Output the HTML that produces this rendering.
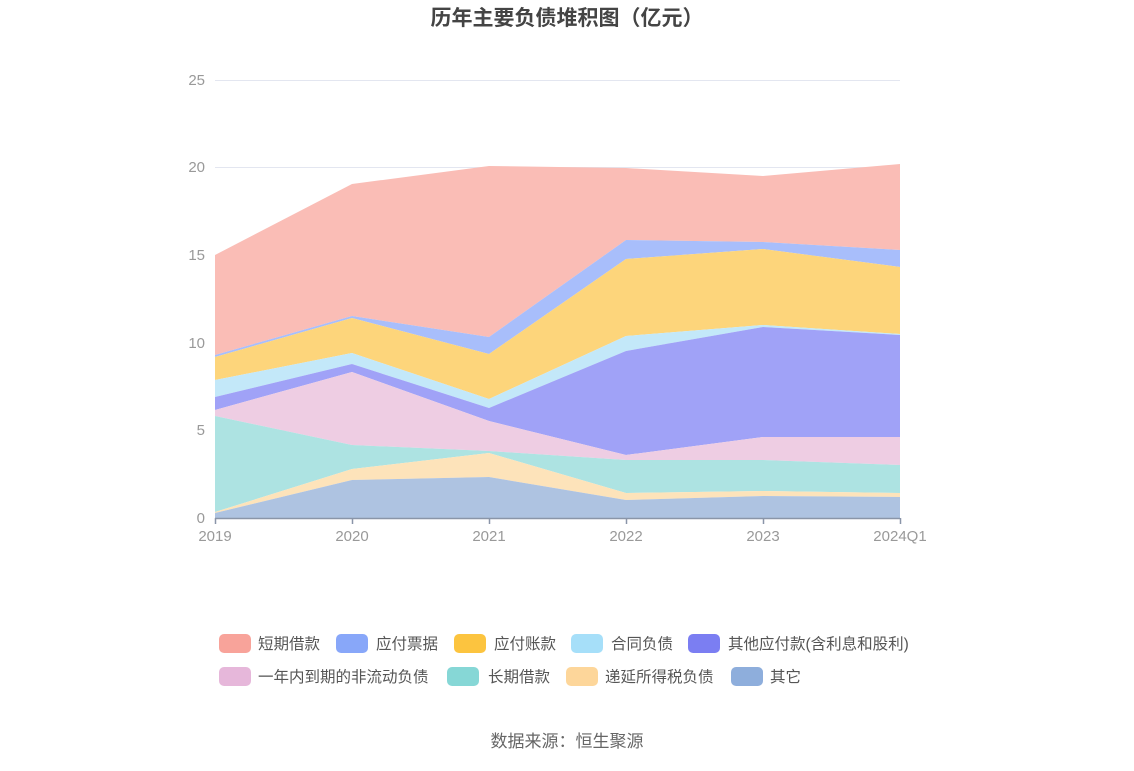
<!DOCTYPE html>
<html><head><meta charset="utf-8"><style>
body{margin:0;background:#fff;}
svg text{font-family:"Liberation Sans","Noto Sans CJK SC",sans-serif;}
</style></head><body>
<svg width="1134" height="766" xmlns="http://www.w3.org/2000/svg">
<rect width="1134" height="766" fill="#fff"/>
<text x="567" y="25" text-anchor="middle" font-size="21" font-weight="bold" fill="#444">历年主要负债堆积图（亿元）</text>
<g stroke="#e3e6f0" stroke-width="1">
<line x1="215" x2="900" y1="80.5" y2="80.5"/>
<line x1="215" x2="900" y1="167.5" y2="167.5"/>
<line x1="215" x2="900" y1="255.5" y2="255.5"/>
<line x1="215" x2="900" y1="343.5" y2="343.5"/>
<line x1="215" x2="900" y1="430.5" y2="430.5"/>
</g>
<g font-size="15" fill="#999" text-anchor="end">
<text x="205" y="85">25</text><text x="205" y="172">20</text><text x="205" y="260">15</text>
<text x="205" y="348">10</text><text x="205" y="435">5</text><text x="205" y="523">0</text>
</g>
<polygon fill="#fabdb6" points="215,255 352,184 489,166 626,168 763,176 900,164 900,250 763,242 626,240 489,337 352,316 215,355"/>
<polygon fill="#a8befb" points="215,355 352,316 489,337 626,240 763,242 900,250 900,267 763,249 626,259 489,354 352,318 215,357"/>
<polygon fill="#fdd57b" points="215,357 352,318 489,354 626,259 763,249 900,267 900,334 763,325 626,336 489,399 352,353 215,380"/>
<polygon fill="#c3e8f9" points="215,380 352,353 489,399 626,336 763,325 900,334 900,335 763,327 626,351 489,408 352,364 215,397"/>
<polygon fill="#a0a2f7" points="215,397 352,364 489,408 626,351 763,327 900,335 900,437 763,437 626,455 489,421 352,372 215,410"/>
<polygon fill="#eecde3" points="215,410 352,372 489,421 626,455 763,437 900,437 900,465 763,460 626,460 489,451 352,445 215,416"/>
<polygon fill="#ade3e2" points="215,416 352,445 489,451 626,460 763,460 900,465 900,493 763,491 626,493 489,453 352,469 215,512"/>
<polygon fill="#fde3ba" points="215,512 352,469 489,453 626,493 763,491 900,493 900,497 763,496 626,500 489,477 352,480 215,513"/>
<polygon fill="#aec3e1" points="215,513 352,480 489,477 626,500 763,496 900,497 900,518 215,518"/>
<line x1="215" x2="900" y1="518.5" y2="518.5" stroke="#8a95a8" stroke-width="1.5"/>
<g stroke="#8a95a8" stroke-width="1.5">
<line x1="215.5" x2="215.5" y1="518" y2="524"/><line x1="352.5" x2="352.5" y1="518" y2="524"/>
<line x1="489.5" x2="489.5" y1="518" y2="524"/><line x1="626.5" x2="626.5" y1="518" y2="524"/>
<line x1="763.5" x2="763.5" y1="518" y2="524"/><line x1="900.5" x2="900.5" y1="518" y2="524"/>
</g>
<g font-size="15" fill="#999" text-anchor="middle">
<text x="215" y="541">2019</text><text x="352" y="541">2020</text><text x="489" y="541">2021</text>
<text x="626" y="541">2022</text><text x="763" y="541">2023</text><text x="900" y="541">2024Q1</text>
</g>
<g font-size="15.5" fill="#555">
<rect x="219" y="634" width="32" height="19" rx="5" fill="#f8a39a"/><text x="258" y="649">短期借款</text>
<rect x="336" y="634" width="32" height="19" rx="5" fill="#88a7f9"/><text x="376" y="649">应付票据</text>
<rect x="454" y="634" width="32" height="19" rx="5" fill="#fcc43f"/><text x="494" y="649">应付账款</text>
<rect x="571" y="634" width="32" height="19" rx="5" fill="#a6dff9"/><text x="611" y="649">合同负债</text>
<rect x="688" y="634" width="32" height="19" rx="5" fill="#7b7ef2"/><text x="728" y="649">其他应付款(含利息和股利)</text>
<rect x="219" y="667" width="32" height="19" rx="5" fill="#e6b7da"/><text x="258" y="682">一年内到期的非流动负债</text>
<rect x="447" y="667" width="32" height="19" rx="5" fill="#86d7d6"/><text x="488" y="682">长期借款</text>
<rect x="566" y="667" width="32" height="19" rx="5" fill="#fdd69a"/><text x="605" y="682">递延所得税负债</text>
<rect x="731" y="667" width="32" height="19" rx="5" fill="#8eaedc"/><text x="770" y="682">其它</text>
</g>
<text x="567" y="747" text-anchor="middle" font-size="17" fill="#666">数据来源：恒生聚源</text>
</svg>
</body></html>
